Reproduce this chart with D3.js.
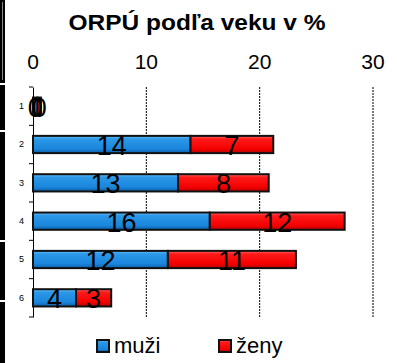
<!DOCTYPE html>
<html>
<head>
<meta charset="utf-8">
<script src="https://cdn.jsdelivr.net/npm/d3@7"></script>
<style>
  html, body { margin: 0; padding: 0; background: #fff; }
  svg { display: block; font-family: "Liberation Sans", Arial, sans-serif; }
</style>
</head>
<body>
<svg id="chart" width="397" height="363"></svg>
<script>
// Age groups (row labels) and the share of each sex in %
const categories = ["1", "2", "3", "4", "5", "6"];
const muzi = [0.4, 13.9, 12.8, 15.6, 11.9, 3.8];
const zeny = [0.3, 7.3, 8.0, 11.9, 11.3, 3.1];
const xTicks = [0, 10, 20, 30];
const seriesNames = ["muži", "ženy"];
const title = "ORPÚ podľa veku v %";

const svg = d3.select("#chart");
const W = 397, H = 363;
const plot = { left: 33, right: 373, top: 87, bottom: 317 };

const x = d3.scaleLinear().domain([0, 30]).range([plot.left, plot.right]);
const y = d3.scaleBand().domain(categories).range([plot.top, plot.bottom]).padding(0);
const barH = y.bandwidth() * 0.45;

// Gradients giving the bars their bevelled look
const defs = svg.append("defs");
function grad(id, stops) {
  const g = defs.append("linearGradient").attr("id", id)
    .attr("x1", 0).attr("y1", 0).attr("x2", 0).attr("y2", 1);
  stops.forEach(([o, c]) => g.append("stop").attr("offset", o).attr("stop-color", c));
}
grad("gBlue", [[0, "#6cc0f5"], [0.18, "#2b98e8"], [0.75, "#1a86dc"], [1, "#0c5ea8"]]);
grad("gRed", [[0, "#ff6a6a"], [0.18, "#ff1a1a"], [0.75, "#f40000"], [1, "#b80000"]]);
const fills = ["url(#gBlue)", "url(#gRed)"];

// Left frame edge
const edge = svg.append("g");
edge.append("rect").attr("x", 0).attr("y", 0).attr("width", 5).attr("height", H).attr("fill", "#000");
edge.append("rect").attr("x", 2).attr("y", 2).attr("width", 1).attr("height", 78).attr("fill", "#888");
[83, 130, 240, 300].forEach(g =>
  edge.append("rect").attr("x", 0).attr("y", g).attr("width", 5).attr("height", 2).attr("fill", "#fff"));

// Title
svg.append("text")
  .attr("x", 197).attr("y", 30)
  .attr("text-anchor", "middle")
  .attr("font-size", 22).attr("font-weight", "bold")
  .attr("textLength", 257).attr("lengthAdjust", "spacingAndGlyphs")
  .text(title);

// Top value axis labels
svg.append("g").selectAll("text").data(xTicks).join("text")
  .attr("x", d => x(d)).attr("y", 69)
  .attr("text-anchor", "middle")
  .attr("font-size", 21)
  .text(d => d);

// Dashed gridlines
svg.append("g").selectAll("line").data(xTicks.filter(d => d > 0)).join("line")
  .attr("x1", d => x(d)).attr("x2", d => x(d))
  .attr("y1", plot.top).attr("y2", plot.bottom)
  .attr("stroke", "#000").attr("stroke-width", 1)
  .attr("stroke-dasharray", "2,1");

// Category axis on the left
const yAxis = d3.axisLeft(y).tickSize(0).tickPadding(9);
const ya = svg.append("g").attr("transform", `translate(${plot.left},0)`).call(yAxis);
ya.select(".domain").attr("stroke", "#000").attr("stroke-width", 1);
ya.selectAll("text").attr("font-size", 9).attr("font-family", "Liberation Sans, Arial, sans-serif");
const bounds = categories.map(c => y(c)).concat([plot.bottom]);
svg.append("g").selectAll("line").data(bounds).join("line")
  .attr("x1", plot.left - 4).attr("x2", plot.left)
  .attr("y1", d => d).attr("y2", d => d)
  .attr("stroke", "#000");

// Stacked bars
const rows = categories.map((c, i) => ({ cat: c, vals: [muzi[i], zeny[i]] }));
const segs = [];
rows.forEach(r => {
  let acc = 0;
  r.vals.forEach((v, k) => { segs.push({ cat: r.cat, k, x0: acc, x1: acc + v, v }); acc += v; });
});

const bars = svg.append("g");
bars.selectAll("rect").data(segs.filter(s => s.v > 0)).join("rect")
  .attr("x", d => x(d.x0)).attr("width", d => x(d.x1) - x(d.x0))
  .attr("y", d => y(d.cat) + (y.bandwidth() - barH) / 2)
  .attr("height", barH)
  .attr("fill", d => fills[d.k])
  .attr("stroke", "#111").attr("stroke-width", 2);

// Value labels centred in each segment
const fmt = d3.format(".0f");
svg.append("g").selectAll("text").data(segs).join("text")
  .attr("x", d => (x(d.x0) + x(d.x1)) / 2)
  .attr("y", d => y(d.cat) + y.bandwidth() / 2 + 10.5)
  .attr("text-anchor", "middle")
  .attr("font-size", 27)
  .text(d => fmt(d.v));

// Legend
const legendX = [97, 219];
const lg = svg.append("g");
seriesNames.forEach((name, k) => {
  lg.append("rect").attr("x", legendX[k]).attr("y", 340).attr("width", 12).attr("height", 12)
    .attr("fill", fills[k]).attr("stroke", "#111").attr("stroke-width", 2);
  lg.append("text").attr("x", legendX[k] + 17).attr("y", 353)
    .attr("font-size", 22).text(name);
});
</script>
</body>
</html>
